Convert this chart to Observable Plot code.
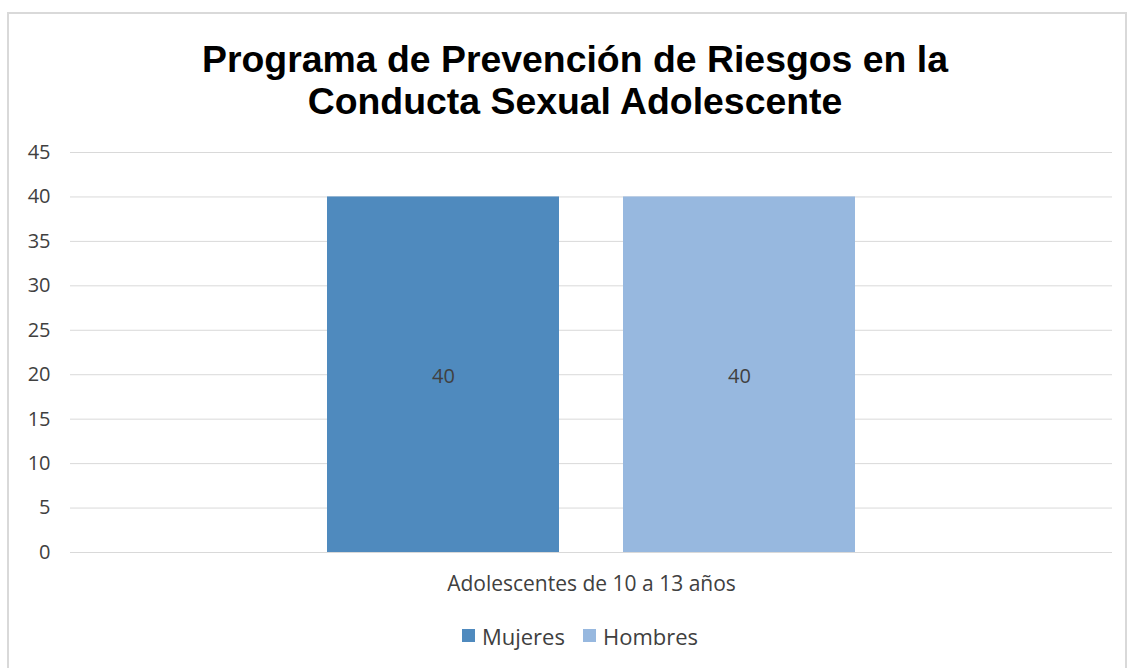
<!DOCTYPE html>
<html>
<head>
<meta charset="utf-8">
<script src="https://cdn.jsdelivr.net/npm/d3@7"></script>
<script src="https://cdn.jsdelivr.net/npm/@observablehq/plot@0.6"></script>
<style>
  html, body { margin: 0; padding: 0; background: #fff; }
  #wrap { position: relative; width: 1128px; height: 668px; overflow: hidden; }
  #frame { position: absolute; left: 7px; top: 12px; width: 1120px; height: 670px; border: 2px solid #d9d9d9; box-sizing: border-box; }
  #title { position: absolute; left: 0; width: 1150px; top: 38px; text-align: center;
           font-family: "Liberation Sans", Arial, sans-serif; font-weight: bold; font-size: 37.4px; line-height: 42px; color: #000; }
  #chart { position: absolute; left: 0; top: 130px; }
  #legend { position: absolute; left: 0; width: 1160px; top: 618px; text-align: center;
            font-family: "Open Sans", sans-serif; font-size: 22px; color: #404040; }
  .item { display: inline-flex; align-items: center; margin: 0 9px; }
  .sw { display: inline-block; width: 13px; height: 13px; margin-right: 7px; }
</style>
</head>
<body>
<div id="wrap">
  <div id="frame"></div>
  <div id="title"></div>
  <div id="chart"></div>
  <div id="legend"></div>
</div>
<script>
const titleLines = ["Programa de Prevención de Riesgos en la", "Conducta Sexual Adolescente"];
const group = "Adolescentes de 10 a 13 años";
const series = ["Mujeres", "Hombres"];
const values = [40, 40];
const colors = ["#4f8abe", "#97b8df"];
const yTicks = [0, 5, 10, 15, 20, 25, 30, 35, 40, 45];

document.getElementById("title").innerHTML = titleLines.join("<br>");

const data = series.map((s, i) => ({group, serie: s, value: values[i]}));

const font = "'Open Sans', sans-serif";
const plot = Plot.plot({
  width: 1128,
  height: 480,
  marginTop: 22,
  marginBottom: 58,
  marginLeft: 70,
  marginRight: 16,
  style: {fontFamily: font, fontSize: "21px", color: "#404040", background: "transparent"},
  fx: {domain: [group], padding: 0, label: null, axis: "bottom", tickSize: 0, tickPadding: 24},
  x: {domain: series, paddingInner: 0.216, paddingOuter: 0.868, axis: null},
  y: {domain: [0, 45], ticks: yTicks, label: null, tickSize: 0, tickPadding: 21},
  color: {domain: series, range: colors},
  marks: [
    Plot.gridY(yTicks, {stroke: "#d9d9d9", strokeOpacity: 1, strokeWidth: 1}),
    Plot.barY(data, {fx: "group", x: "serie", y: "value", fill: "serie"}),
    Plot.text(data, {fx: "group", x: "serie", y: d => d.value / 2, text: d => String(d.value),
                     fill: "#404040", fontSize: 20, dy: 2}),
    Plot.axisY({ticks: yTicks, tickSize: 0, tickPadding: 20, fill: "#404040", fontSize: 20})
  ]
});
document.getElementById("chart").appendChild(plot);

const legend = document.getElementById("legend");
series.forEach((s, i) => {
  const it = document.createElement("span");
  it.className = "item";
  it.innerHTML = `<span class="sw" style="background:${colors[i]}"></span>${s}`;
  legend.appendChild(it);
});
</script>
</body>
</html>
